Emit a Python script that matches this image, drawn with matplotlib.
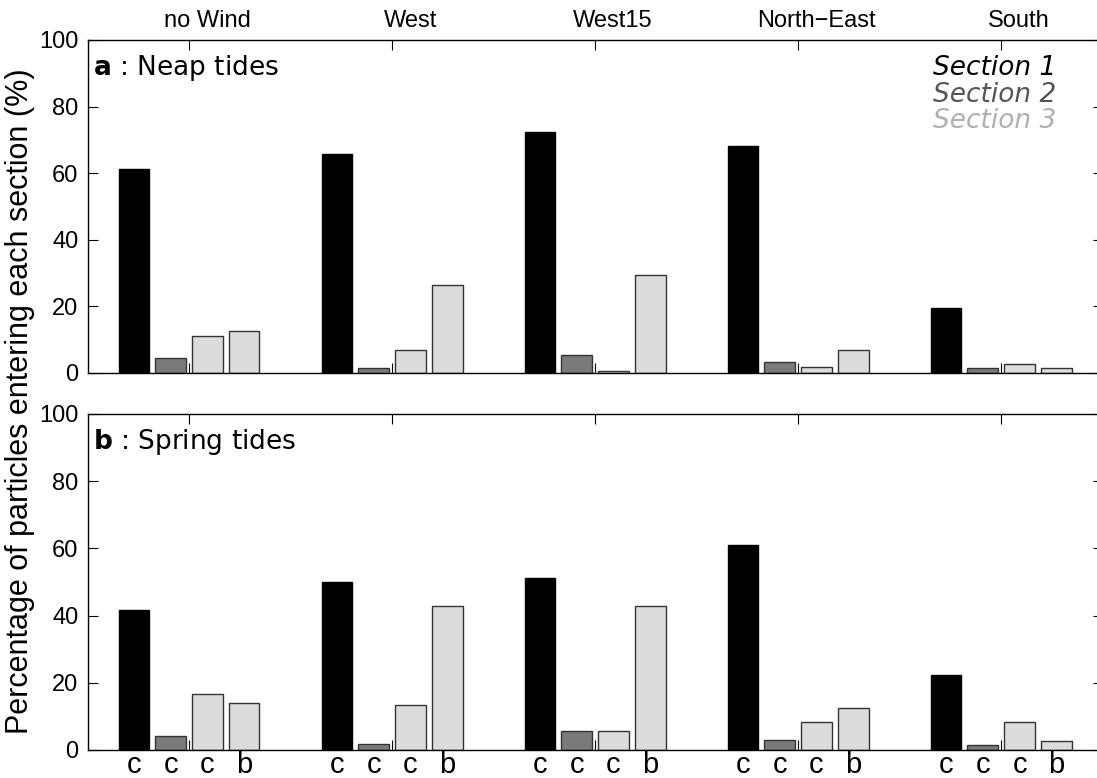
import numpy as np
import matplotlib.pyplot as plt

# --- DATA ---
winds = ['no Wind', 'West', 'West15', 'North\u2212East', 'South']
bar_tags = ['c', 'c', 'c', 'b']
section_names = ['Section 1', 'Section 2', 'Section 3']

# Panel a: neap tides (% of particles entering each section)
neap_s1 = [61.2, 65.7, 72.5, 68.3, 19.5]
neap_s2 = [4.5, 1.5, 5.4, 3.4, 1.5]
neap_s3c = [11.1, 6.9, 0.7, 1.8, 2.7]
neap_s3b = [12.6, 26.4, 29.3, 6.9, 1.5]

# Panel b: spring tides
spring_s1 = [41.8, 49.9, 51.3, 61.1, 22.3]
spring_s2 = [4.2, 1.8, 5.6, 3.0, 1.5]
spring_s3c = [16.6, 13.4, 5.6, 8.3, 8.3]
spring_s3b = [13.9, 43.0, 43.0, 12.5, 2.7]

# --- STYLE ---
FILL = ['#000000', '#7a7a7a', '#dcdcdc', '#dcdcdc']
EDGE = ['#000000', '#333333', '#333333', '#333333']
TEXT_COL = ['#000000', '#555555', '#b0b0b0']
OFFSETS = [-0.272, -0.091, 0.091, 0.272]
WIDTH = 0.15
SANS = ['Liberation Sans', 'DejaVu Sans']

plt.rcParams['font.family'] = SANS
plt.rcParams['mathtext.fontset'] = 'dejavusans'

fig = plt.figure(figsize=(10.97, 7.78), dpi=100)
ax_a = fig.add_axes([0.0798, 0.5206, 0.9253, 0.4280])
ax_b = fig.add_axes([0.0798, 0.0360, 0.9253, 0.4319])

groups = np.arange(1, len(winds) + 1)


def draw_panel(ax, series, letter, title, bottom_labels):
    for k, vals in enumerate(series):
        ax.bar(groups + OFFSETS[k], vals, width=WIDTH, color=FILL[k],
               edgecolor=EDGE[k], linewidth=1.0, zorder=2)

    ax.set_xlim(0.5, 5.5)
    ax.set_ylim(0, 100)
    ax.set_yticks(np.arange(0, 101, 20))

    # group centres: inward ticks on bottom and top, no labels
    ax.set_xticks(groups)
    ax.set_xticklabels([])
    ax.tick_params(axis='x', which='major', direction='in', length=7,
                   width=0.8, top=True, bottom=True)
    ax.tick_params(axis='y', direction='in', length=7, width=0.8,
                   left=True, right=True, labelsize=17, pad=6.5)

    # bar tags as minor tick labels
    if bottom_labels:
        pos = np.sort(np.concatenate([groups + o for o in OFFSETS]))
        ax.set_xticks(pos, minor=True)
        ax.set_xticklabels(bar_tags * len(winds), minor=True)
        ax.tick_params(axis='x', which='minor', length=0, labelsize=21, pad=0.5)

    for sp in ax.spines.values():
        sp.set_linewidth(1.0)

    ax.annotate(r'$\mathbf{%s}$ : %s' % (letter, title), xy=(0, 1),
                xycoords='axes fraction', xytext=(4, -25),
                textcoords='offset points', fontsize=19, va='baseline',
                ha='left', family='DejaVu Sans')


draw_panel(ax_a, [neap_s1, neap_s2, neap_s3c, neap_s3b], 'a', 'Neap tides', False)
draw_panel(ax_b, [spring_s1, spring_s2, spring_s3c, spring_s3b], 'b', 'Spring tides', True)

# wind labels above panel a (slightly right of the tick marks)
for g, name in zip(groups, winds):
    ax_a.annotate(name, xy=(g, 1), xycoords=('data', 'axes fraction'),
                  xytext=(13, 9.5), textcoords='offset points',
                  ha='center', va='baseline', fontsize=17)

# section legend (coloured italic text)
for i, name in enumerate(section_names):
    fig.text(933 / 1097, 1 - (75 + 26.5 * i) / 778, name, color=TEXT_COL[i],
             fontsize=19, style='italic', family='DejaVu Sans',
             ha='left', va='baseline')

fig.text(20 / 1097, 1 - 401 / 778,
         'Percentage of particles entering each section (%)',
         rotation=90, ha='center', va='center', fontsize=22)

fig.savefig('out.png', dpi=100)
